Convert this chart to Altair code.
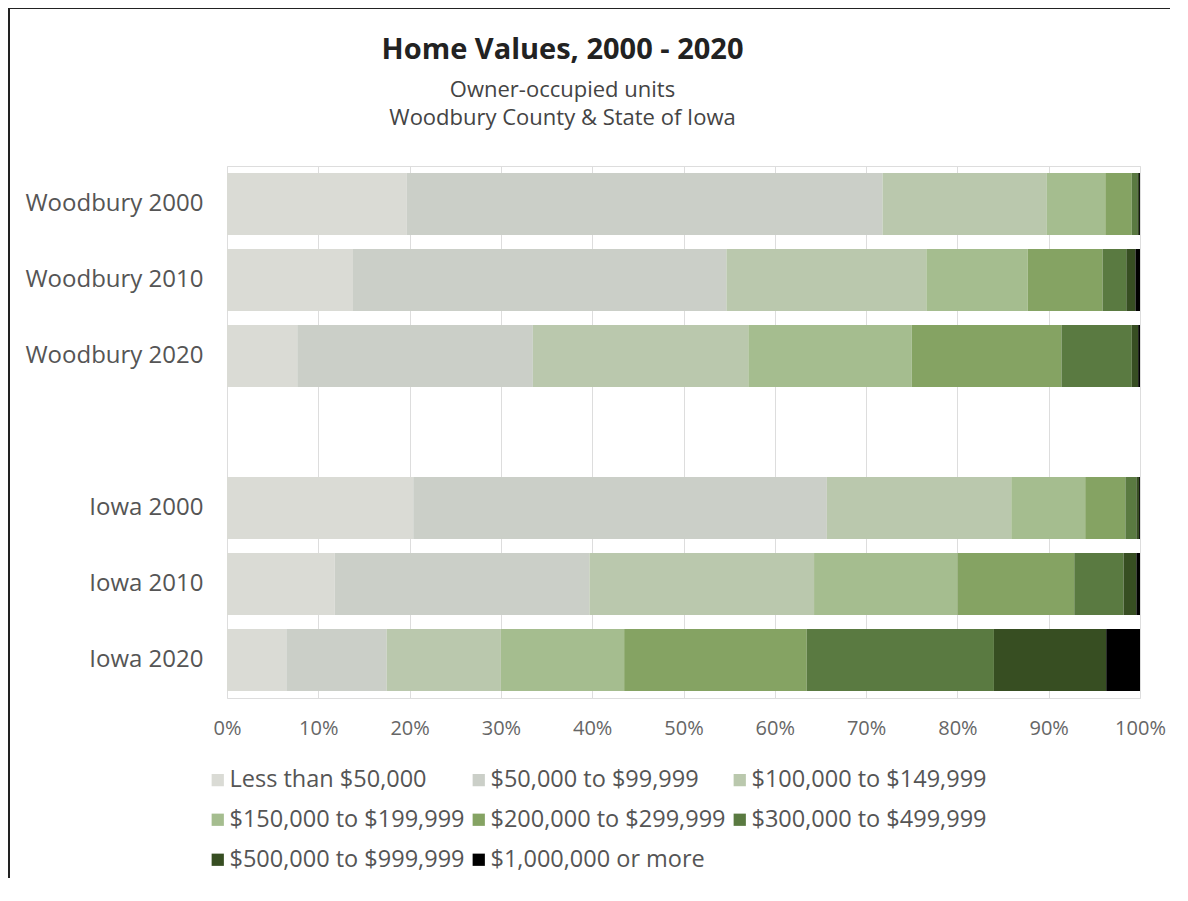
import altair as alt
import pandas as pd

# Categories (rows) and a blank spacer row
rows = ["Woodbury 2000", "Woodbury 2010", "Woodbury 2020", " ",
        "Iowa 2000", "Iowa 2010", "Iowa 2020"]

brackets = ["Less than $50,000", "$50,000 to $99,999", "$100,000 to $149,999",
            "$150,000 to $199,999", "$200,000 to $299,999", "$300,000 to $499,999",
            "$500,000 to $999,999", "$1,000,000 or more"]

colors = ["#dadbd5", "#cbcfc8", "#bac8ad", "#a5bd8f", "#85a363", "#5a7a41",
          "#374e22", "#000000"]

# Shares (%) per bracket
woodbury_2000 = [19.7, 52.1, 18.0, 6.4, 2.9, 0.6, 0.2, 0.1]
woodbury_2010 = [13.8, 40.9, 21.9, 11.1, 8.2, 2.6, 1.0, 0.5]
woodbury_2020 = [7.7, 25.8, 23.6, 17.9, 16.4, 7.7, 0.7, 0.2]
iowa_2000 = [20.4, 45.3, 20.2, 8.1, 4.4, 1.2, 0.3, 0.1]
iowa_2010 = [11.8, 27.9, 24.6, 15.7, 12.8, 5.4, 1.4, 0.4]
iowa_2020 = [6.5, 11.0, 12.5, 13.5, 20.0, 20.5, 12.3, 3.7]

series = {
    "Woodbury 2000": woodbury_2000,
    "Woodbury 2010": woodbury_2010,
    "Woodbury 2020": woodbury_2020,
    "Iowa 2000": iowa_2000,
    "Iowa 2010": iowa_2010,
    "Iowa 2020": iowa_2020,
}

records = []
for name, vals in series.items():
    for k, (b, v) in enumerate(zip(brackets, vals)):
        records.append({"row": name, "bracket": b, "k": k, "share": v})
df = pd.DataFrame(records)

FONT = "Open Sans"

bars = alt.Chart(df).mark_bar().encode(
    y=alt.Y("row:N", sort=rows,
            scale=alt.Scale(domain=rows, paddingInner=0.184, paddingOuter=0.092),
            axis=alt.Axis(title=None, ticks=False, domain=False, grid=False,
                          labelFontSize=24, labelColor="#555555", labelFont=FONT,
                          labelPadding=24, labelLimit=400)),
    x=alt.X("share:Q", stack="normalize",
            scale=alt.Scale(domain=[0, 1], nice=False),
            axis=alt.Axis(title=None, format=".0%",
                          values=[i / 10 for i in range(11)],
                          ticks=False, domain=False, grid=True,
                          gridColor="#dddddd", gridWidth=1, labelFlush=False,
                          labelFontSize=20, labelColor="#666666", labelFont=FONT,
                          labelPadding=20)),
    color=alt.Color("bracket:N",
                    scale=alt.Scale(domain=brackets, range=colors),
                    legend=alt.Legend(title=None, orient="none", legendX=-21,
                                      legendY=602, columns=3, direction="horizontal",
                                      symbolType="square", symbolSize=150,
                                      symbolStrokeWidth=0, labelFontSize=23.5,
                                      labelFont=FONT, labelColor="#555555",
                                      labelLimit=500,
                                      columnPadding=2, rowPadding=15,
                                      labelOffset=0, padding=0)),
    order=alt.Order("k:Q", sort="ascending"),
)

frame_data = alt.Data(values=[{"f": 1}])
frame_top = alt.Chart(frame_data).mark_rule(
    stroke="#222222", strokeWidth=2, clip=False
).encode(x=alt.value(-218), x2=alt.value(953), y=alt.value(-158))
frame_left = alt.Chart(frame_data).mark_rule(
    stroke="#222222", strokeWidth=2, clip=False
).encode(x=alt.value(-218), y=alt.value(-158), y2=alt.value(712))

chart = alt.layer(bars, frame_top, frame_left).properties(
    width=913,
    height=532,
    autosize=alt.AutoSizeParams(type="none"),
    padding={"left": 219, "top": 158, "right": 30, "bottom": 180},
    title=alt.TitleParams(
        text="Home Values, 2000 - 2020",
        subtitle=["Owner-occupied units", "Woodbury County & State of Iowa"],
        anchor="middle", frame="group", dx=-121, offset=-122,
        font=FONT, fontSize=29, fontWeight="bold", color="#222222",
        subtitleFont=FONT, subtitleFontSize=22, subtitleColor="#444444",
        subtitleLineHeight=28, subtitlePadding=15,
    ),
).configure_view(stroke=None).configure(background="white")

chart.save("out.html", embed_options={"renderer": "svg", "actions": False})
